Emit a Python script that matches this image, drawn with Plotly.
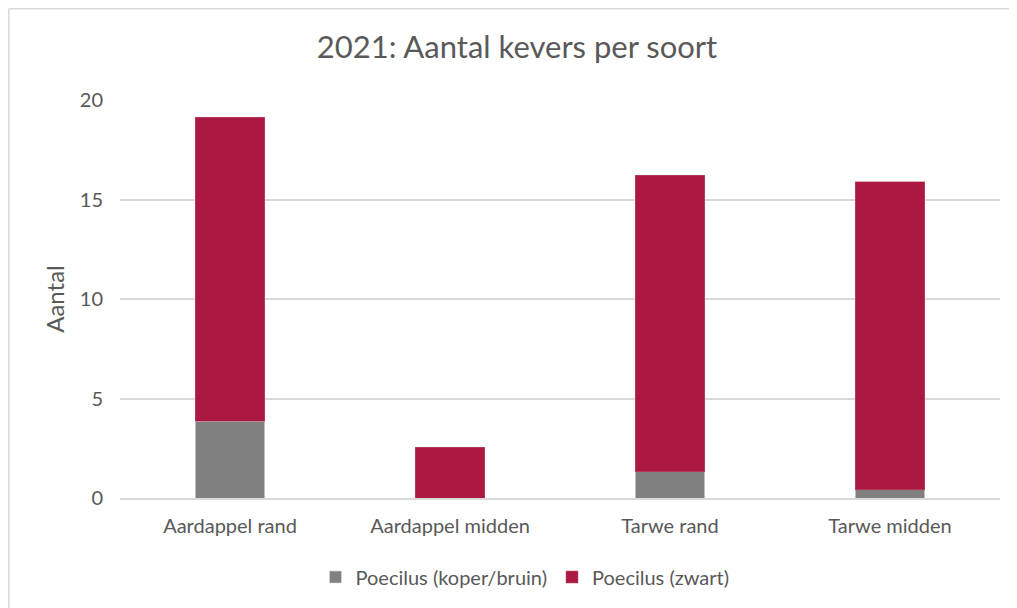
import plotly.graph_objects as go

categories = ["Aardappel rand", "Aardappel midden", "Tarwe rand", "Tarwe midden"]
koper_bruin = [3.86, 0.0, 1.33, 0.42]
zwart = [15.27, 2.54, 14.88, 15.48]
y_ticks = [0, 5, 10, 15, 20]

FONT = "Lato"
TXT = "#595959"

# page has an 8px body margin; figure coordinates = page - 8
W, H = 1009, 600
L, R, T, B = 112, 17, 92, 110
PH = H - T - B
PW = W - L - R

fig = go.Figure()
fig.add_trace(go.Bar(x=categories, y=koper_bruin, name="Poecilus (koper/bruin)",
                     marker=dict(color="#808080", line=dict(color="#d9d9d9", width=0.7))))
fig.add_trace(go.Bar(x=categories, y=zwart, name="Poecilus (zwart)",
                     marker=dict(color="#ab1942", line=dict(color="#c0576f", width=0.5))))

fig.update_layout(
    barmode="stack",
    bargap=0.686,
    width=W, height=H,
    margin=dict(l=L, r=R, t=T, b=B),
    paper_bgcolor="white", plot_bgcolor="white",
    font=dict(family=FONT, color=TXT, size=20),
    title=dict(text="2021: Aantal kevers per soort", x=(517 - 8) / W, xanchor="center",
               y=1 - 39 / H, yanchor="middle",
               font=dict(family=FONT, size=31, color=TXT)),
    xaxis=dict(showgrid=False, showline=True, linecolor="#d9d9d9", linewidth=1.5,
               ticks="", ticklabelstandoff=9, tickfont=dict(size=20, color=TXT)),
    yaxis=dict(range=[0, 20], tickvals=y_ticks, showgrid=True, gridcolor="#d9d9d9",
               gridwidth=1.5, zeroline=False, showline=False, ticks="",
               ticklabelstandoff=16, tickfont=dict(size=20, color=TXT),
               title=dict(text="Aantal", font=dict(size=24, color=TXT), standoff=8)),
    legend=dict(orientation="h", x=(525 - 8 - L) / PW, xanchor="center",
                y=(T + PH - 569) / PH, yanchor="middle",
                font=dict(size=20, color=TXT), traceorder="normal"),
    showlegend=True,
)

xl = (0.8 - L) / PW
yt = (T + PH - 0.8) / PH
fig.add_shape(type="line", xref="paper", yref="paper",
              x0=xl, x1=xl, y0=(T + PH - 700) / PH, y1=yt,
              line=dict(color="#d9d9d9", width=1.5), layer="below")
fig.add_shape(type="line", xref="paper", yref="paper",
              x0=xl, x1=(1100 - L) / PW, y0=yt, y1=yt,
              line=dict(color="#d9d9d9", width=1.5), layer="below")

fig.write_html("out.html")
